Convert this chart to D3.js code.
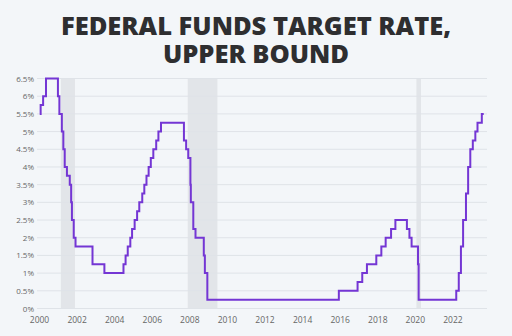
<!DOCTYPE html>
<html>
<head>
<meta charset="utf-8">
<script src="https://cdn.jsdelivr.net/npm/d3@7"></script>
<style>
  body { margin: 0; background: #f3f6f9; }
  svg { display: block; }
</style>
</head>
<body>
<svg id="graph" width="512" height="336"></svg>
<script>
// rate changes (date the upper bound changed, new upper bound in %)
var changeDates = [
  "2000-01-15", "2000-02-02", "2000-03-21", "2000-05-16",
  "2001-01-03", "2001-01-31", "2001-03-20", "2001-04-18", "2001-05-15", "2001-06-27",
  "2001-08-21", "2001-09-17", "2001-10-02", "2001-11-06", "2001-12-11",
  "2002-11-06", "2003-06-25",
  "2004-06-30", "2004-08-10", "2004-09-21", "2004-11-10", "2004-12-14",
  "2005-02-02", "2005-03-22", "2005-05-03", "2005-06-30", "2005-08-09", "2005-09-20",
  "2005-11-01", "2005-12-13",
  "2006-01-31", "2006-03-28", "2006-05-10", "2006-06-29",
  "2007-09-18", "2007-10-31", "2007-12-11",
  "2008-01-22", "2008-01-30", "2008-03-18", "2008-04-30", "2008-10-08", "2008-10-29", "2008-12-16",
  "2015-12-16", "2016-12-14",
  "2017-03-15", "2017-06-14", "2017-12-13",
  "2018-03-21", "2018-06-13", "2018-09-26", "2018-12-19",
  "2019-07-31", "2019-09-18", "2019-10-30",
  "2020-03-03", "2020-03-15",
  "2022-03-16", "2022-05-04", "2022-06-15", "2022-07-27", "2022-09-21", "2022-11-02", "2022-12-14",
  "2023-02-01", "2023-03-22", "2023-05-03", "2023-07-26"
];
var rates = [
  5.5, 5.75, 6, 6.5,
  6, 5.5, 5, 4.5, 4, 3.75,
  3.5, 3, 2.5, 2, 1.75,
  1.25, 1,
  1.25, 1.5, 1.75, 2, 2.25,
  2.5, 2.75, 3, 3.25, 3.5, 3.75,
  4, 4.25,
  4.5, 4.75, 5, 5.25,
  4.75, 4.5, 4.25,
  3.5, 3, 2.25, 2, 1.5, 1, 0.25,
  0.5, 0.75,
  1, 1.25, 1.5,
  1.75, 2, 2.25, 2.5,
  2.25, 2, 1.75,
  1.25, 0.25,
  0.5, 1, 1.75, 2.5, 3.25, 4, 4.5,
  4.75, 5, 5.25, 5.5
];
var lastDate = "2023-09-01";

// recessions shaded in grey
var recessionStarts = ["2001-03-01", "2007-12-01", "2020-02-01"];
var recessionEnds = ["2001-11-30", "2009-06-30", "2020-04-30"];

var yTicks = [0, 0.5, 1, 1.5, 2, 2.5, 3, 3.5, 4, 4.5, 5, 5.5, 6, 6.5];
var xTickYears = [2000, 2002, 2004, 2006, 2008, 2010, 2012, 2014, 2016, 2018, 2020, 2022];

var titleLines = ["FEDERAL FUNDS TARGET RATE,", "UPPER BOUND"];

var parse = d3.timeParse("%Y-%m-%d");
var data = changeDates.map(function (d, i) { return { date: parse(d), rate: rates[i] }; });
// hold the last value until the end of the line
data.push({ date: parse(lastDate), rate: rates[rates.length - 1] });

const svg = d3.select("#graph");

const x = d3.scaleTime()
  .domain([new Date(2000, 0, 1), new Date(2024, 0, 1)])
  .range([39, 490]);
const y = d3.scaleLinear().domain([0, 6.5]).range([308.5, 78.5]);

// title, one text with a tspan per line
svg.append("text")
  .attr("class", "title")
  .attr("text-anchor", "middle")
  .style("font-family", "'Open Sans', sans-serif")
  .style("font-weight", "800")
  .style("font-size", "25.5px")
  .style("fill", "#2e2e30")
  .selectAll("tspan")
  .data(titleLines)
  .join("tspan")
  .attr("x", 256)
  .attr("y", function (d, i) { return 35 + i * 28; })
  .text(function (d) { return d; });

// recession bands
svg.selectAll(".recession")
  .data(recessionStarts)
  .join("rect")
  .attr("class", "recession")
  .attr("x", function (d) { return x(parse(d)); })
  .attr("width", function (d, i) { return x(parse(recessionEnds[i])) - x(parse(d)); })
  .attr("y", y(6.5))
  .attr("height", y(0) - y(6.5))
  .style("fill", "#e2e5e9");

// horizontal grid lines
svg.selectAll(".grid")
  .data(yTicks)
  .join("line")
  .attr("class", "grid")
  .attr("x1", 37)
  .attr("x2", 487)
  .attr("y1", function (d) { return y(d); })
  .attr("y2", function (d) { return y(d); })
  .style("stroke", "#dfe3e8")
  .style("stroke-width", 1);

// y axis labels
const yAxis = svg.append("g")
  .attr("transform", "translate(37,0)")
  .call(d3.axisLeft(y).tickValues(yTicks).tickSize(0).tickPadding(3)
    .tickFormat(function (d) { return d + "%"; }));
yAxis.select(".domain").remove();
yAxis.selectAll("text")
  .style("font-family", "'Open Sans', sans-serif")
  .style("font-size", "8px")
  .style("fill", "#666");

// x axis labels
const xAxis = svg.append("g")
  .attr("transform", "translate(0," + y(0) + ")")
  .call(d3.axisBottom(x)
    .tickValues(xTickYears.map(function (yr) { return new Date(yr, 0, 1); }))
    .tickSize(0).tickPadding(8)
    .tickFormat(d3.timeFormat("%Y")));
xAxis.select(".domain").remove();
xAxis.selectAll("text")
  .style("font-family", "'Open Sans', sans-serif")
  .style("font-size", "8.5px")
  .style("fill", "#666");

// the step line
const line = d3.line()
  .x(function (d) { return x(d.date); })
  .y(function (d) { return y(d.rate); })
  .curve(d3.curveStepAfter);

svg.append("path")
  .datum(data)
  .attr("d", line)
  .style("fill", "none")
  .style("stroke", "#7436d4")
  .style("stroke-width", 2)
  .style("stroke-linejoin", "miter");
</script>
</body>
</html>
